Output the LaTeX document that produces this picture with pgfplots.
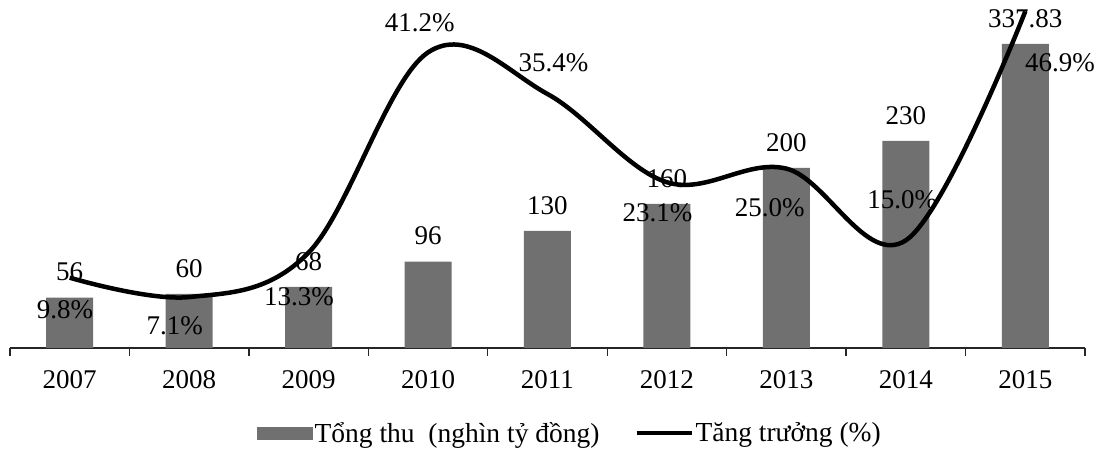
\documentclass[border=0pt]{standalone}
\usepackage{fontspec}
\setmainfont{Liberation Serif}
\usepackage{pgfplots}
\pgfplotsset{compat=1.18}
\definecolor{barc}{RGB}{112,112,112}
\newcommand\f{\fontsize{27bp}{31bp}\selectfont}
\newcommand\fl{\fontsize{27.5bp}{32bp}\selectfont}
\begin{document}
\begin{tikzpicture}[font=\f]
\useasboundingbox (0,0) rectangle (1102bp,450bp);
\begin{axis}[
  at={(10bp,102bp)}, anchor=south west,
  scale only axis, width=1075bp, height=348bp,
  xmin=-0.5, xmax=8.5, ymin=0, ymax=386.67,
  axis x line=bottom, axis y line=none,
  axis line style={-, line width=1.4bp, black!85},
  xtick={0,...,8},
  xticklabels={2007,2008,2009,2010,2011,2012,2013,2014,2015},
  major tick length=0pt,
  minor xtick={-0.5,0.5,...,8.5},
  minor tick length=8bp,
  xtick align=outside,
  minor tick style={line width=1.4bp, black!85},
  xticklabel style={font=\f, inner sep=0pt, yshift=-22bp},
  ytick=\empty,
  clip=false,
]
\addplot[ybar, bar width=47bp, fill=barc, draw=none,
  nodes near coords, nodes near coords style={font=\f, anchor=center, inner sep=0pt, yshift=25.5bp},
  point meta=explicit symbolic]
  coordinates {(0,56)[56] (1,60)[60] (2,68)[68] (3,96)[96] (4,130)[130] (5,160)[160] (6,200)[200] (7,230)[230] (8,337.83)[337.83]};
\end{axis}
\begin{axis}[
  at={(10bp,102bp)}, anchor=south west,
  scale only axis, width=1075bp, height=348bp,
  xmin=-0.5, xmax=8.5, ymin=0, ymax=48.5,
  hide axis, clip=false,
  legend style={at={(0.2298,-0.2443)}, anchor=west, draw=none, fill=none,
    font=\fl, legend columns=2, inner sep=0pt,
    /tikz/every even column/.append style={column sep=33bp}},
  legend cell align=left,
]
\addlegendimage{legend image code/.code={\fill[barc] (0bp,-6bp) rectangle (55bp,6bp);}}
\addlegendentry{Tổng thu~ (nghìn tỷ đồng)}
\addplot[black, line width=4.5bp, smooth, tension=0.6, mark=none,
  legend image code/.code={\draw[black, line width=4bp] (0bp,0bp) -- (55bp,0bp);}]
  coordinates {(0,9.8) (1,7.1) (2,13.3) (3,41.2) (4,35.4) (5,23.1) (6,25.0) (7,15.0) (8,46.9)};
\addlegendentry{Tăng trưởng (\%)}
\node[inner sep=0pt] at (axis cs:-0.04,5.3) {9.8\%};
\node[inner sep=0pt] at (axis cs:0.88,3.07) {7.1\%};
\node[inner sep=0pt] at (axis cs:1.92,7.1) {13.3\%};
\node[inner sep=0pt] at (axis cs:2.93,45.3) {41.2\%};
\node[inner sep=0pt] at (axis cs:4.05,39.7) {35.4\%};
\node[inner sep=0pt] at (axis cs:4.92,18.8) {23.1\%};
\node[inner sep=0pt] at (axis cs:5.86,19.5) {25.0\%};
\node[inner sep=0pt] at (axis cs:6.97,20.6) {15.0\%};
\node[inner sep=0pt] at (axis cs:8.29,39.7) {46.9\%};
\end{axis}
\end{tikzpicture}
\end{document}
